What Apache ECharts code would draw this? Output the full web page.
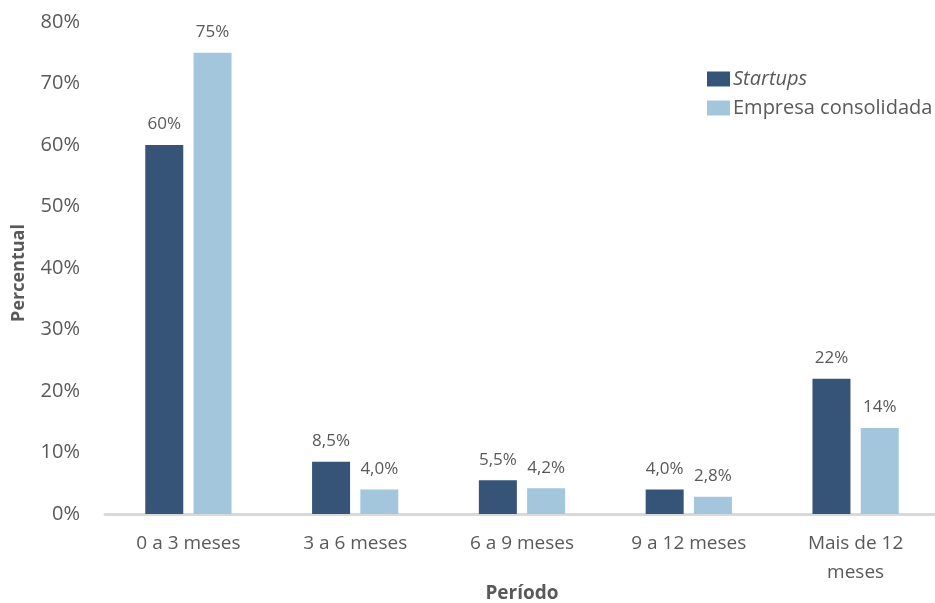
<!DOCTYPE html>
<html>
<head>
<meta charset="utf-8">
<script src="https://cdn.jsdelivr.net/npm/echarts@6/dist/echarts.min.js"></script>
<style>
  html, body { margin: 0; padding: 0; background: #ffffff; }
  #chart { width: 935px; height: 603px; }
</style>
</head>
<body>
<div id="chart"></div>
<script>
// Tempo até o primeiro contrato, por tipo de empresa
const categories = ['0 a 3 meses', '3 a 6 meses', '6 a 9 meses', '9 a 12 meses', 'Mais de 12\nmeses'];
const startups = [60, 8.5, 5.5, 4.0, 22];
const consolidada = [75, 4.0, 4.2, 2.8, 14];
const startupsLabels = ['60%', '8,5%', '5,5%', '4,0%', '22%'];
const consolidadaLabels = ['75%', '4,0%', '4,2%', '2,8%', '14%'];
const yTicks = [0, 10, 20, 30, 40, 50, 60, 70, 80];

const FONT = '"Open Sans", "Noto Sans", sans-serif';
const TEXT = '#595959';

const chart = echarts.init(document.getElementById('chart'), null, { renderer: 'canvas' });

function labelOf(texts) {
  return {
    show: true,
    position: 'top',
    distance: 12,
    color: TEXT,
    fontFamily: FONT,
    fontSize: 17,
    formatter: p => texts[p.dataIndex]
  };
}

chart.setOption({
  animation: false,
  backgroundColor: '#ffffff',
  textStyle: { fontFamily: FONT },
  grid: { left: 105, right: -4, top: 22, bottom: 89, containLabel: false, outerBoundsMode: 'none' },
  legend: {
    orient: 'vertical',
    left: 707,
    top: 69,
    padding: 0,
    itemWidth: 23,
    itemHeight: 15,
    itemGap: 9,
    icon: 'rect',
    textStyle: { color: TEXT, fontFamily: FONT, fontSize: 20, lineHeight: 20, padding: [0, 0, 0, -2] },
    data: [
      { name: 'Startups', textStyle: { fontStyle: 'italic' } },
      { name: 'Empresa consolidada' }
    ]
  },
  xAxis: {
    type: 'category',
    data: categories,
    name: 'Período',
    nameLocation: 'middle',
    nameGap: 70,
    nameMoveOverlap: false,
    nameTextStyle: { color: TEXT, fontFamily: FONT, fontSize: 19, fontWeight: 'bold' },
    axisLine: { lineStyle: { color: '#d9d9d9', width: 3 } },
    axisTick: { show: false },
    axisLabel: { color: TEXT, fontFamily: FONT, fontSize: 19, margin: 15, lineHeight: 29 }
  },
  yAxis: {
    type: 'value',
    min: yTicks[0],
    max: yTicks[yTicks.length - 1],
    interval: 10,
    name: 'Percentual',
    nameLocation: 'middle',
    nameGap: 77,
    nameRotate: 90,
    nameMoveOverlap: false,
    nameTextStyle: { color: TEXT, fontFamily: FONT, fontSize: 18, fontWeight: 'bold', padding: [0, 10, 0, 0] },
    axisLine: { show: false },
    axisTick: { show: false },
    splitLine: { show: false },
    axisLabel: { color: TEXT, fontFamily: FONT, fontSize: 20, margin: 25, padding: [8, 0, 0, 0], formatter: v => v + '%' }
  },
  series: [
    {
      name: 'Startups',
      type: 'bar',
      data: startups,
      barWidth: 38,
      barGap: '27%',
      itemStyle: { color: '#365478' },
      label: labelOf(startupsLabels)
    },
    {
      name: 'Empresa consolidada',
      type: 'bar',
      data: consolidada,
      barWidth: 38,
      itemStyle: { color: '#a3c6dd' },
      label: labelOf(consolidadaLabels)
    }
  ]
});
</script>
</body>
</html>
